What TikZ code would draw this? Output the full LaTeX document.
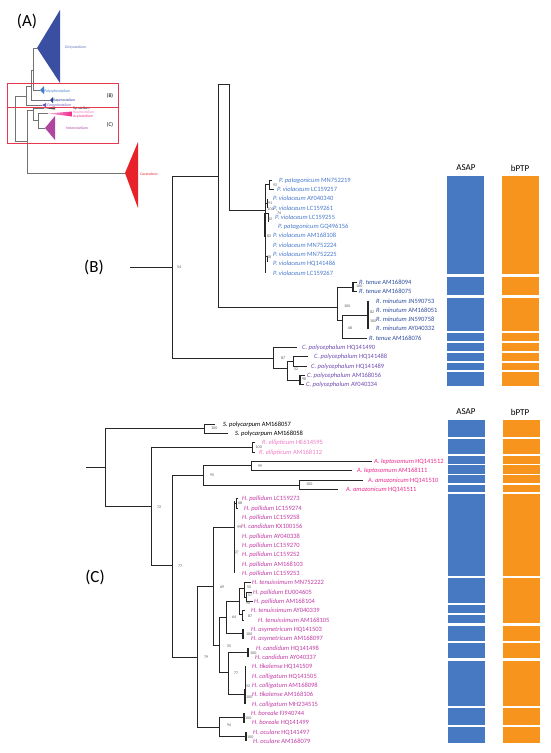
\documentclass[tikz,border=0pt]{standalone}
\usepackage{fontspec}
\setmainfont{Carlito}
\definecolor{pblue}{HTML}{4A7BCC}
\definecolor{rblue}{HTML}{2E4D9E}
\definecolor{cpurp}{HTML}{6F4BB0}
\definecolor{epink}{HTML}{EF7CC6}
\definecolor{apink}{HTML}{EE2A8C}
\definecolor{hmag}{HTML}{C23CA6}
\definecolor{barblue}{HTML}{4679C1}
\definecolor{barorg}{HTML}{F7941D}
\definecolor{boxred}{HTML}{E8384F}
\definecolor{dicty}{HTML}{3B4FA2}
\definecolor{polyc}{HTML}{3E7DCB}
\definecolor{raper}{HTML}{243C92}
\definecolor{corem}{HTML}{6A52B8}
\definecolor{cav}{HTML}{E8222A}
\definecolor{hetero}{HTML}{B0469E}
\newcommand{\lf}[4]{\node[lab,text=#2] (#4) at (#1) {\textit{#3} #4};}
\newcommand{\sv}[3]{\node[sup] (#1) at (#2) {#3};}
\newcommand{\alb}[4]{\node[alabel,text=#3] (#1) at (#2) {\textit{#4}};}
\newcommand{\seg}[4]{\fill[#1] (#2,#3) rectangle ({#2+37},#4);}
\begin{document}
\begin{tikzpicture}[x=1pt,y=-1pt,
  br/.style={draw=black!85, line width=0.8pt},
  tbar/.style={draw=black!85, line width=1.7pt},
  abr/.style={draw=black!55, line width=0.7pt},
  lab/.style={anchor=west, inner sep=0pt, font=\fontsize{6.5}{7}\selectfont, text height=4.2pt, text depth=0pt},
  sup/.style={anchor=west, inner sep=0pt, font=\fontsize{4}{4.5}\selectfont, text=black!65, text height=2.6pt, text depth=0pt},
  alabel/.style={anchor=west, inner sep=0pt, font=\fontsize{3.8}{4}\selectfont, text height=2.5pt, text depth=0pt},
  hdr/.style={inner sep=0pt, font=\fontsize{9}{10}\selectfont},
  panel/.style={inner sep=0pt, font=\fontsize{17}{18}\selectfont}]
\useasboundingbox (0,0) rectangle (550,753);
\fill[white] (0,0) rectangle (550,753);

% ================= Panel A =================
\node[panel] (pA) at (27,21) {(A)};
\fill[dicty] (37,48) -- (60,10) -- (60,83) -- cycle;
\fill[polyc] (40,90) -- (44,86) -- (44,94) -- cycle;
\fill[raper] (50,100) -- (53,97) -- (53,103) -- cycle;
\fill[corem] (42,105) -- (46,103) -- (46,107) -- cycle;
\fill[black!70] (44,108) -- (55,106.5) -- (55,109.5) -- cycle;
\shade[left color=epink!60, right color=apink] (48,113.5) -- (72,111.5) -- (72,116.5) -- cycle;
\fill[hetero] (45,128) -- (55,116) -- (55,140) -- cycle;
\fill[cav] (125,173) -- (138,142) -- (138,208) -- cycle;
\draw[abr] (37,48) -| (33,90) -- (40,90);
\draw[abr] (33,70) -| (31,100) -- (50,100);
\draw[abr] (31,86) -| (26,105) -- (42,105);
\draw[abr] (26,96) -| (15,141) -- (27,141);
\draw[abr] (33,110) -| (27,173) -- (125,173);
\draw[abr] (44,108) -| (33,120) -- (38,120);
\draw[abr] (48,113.5) -| (38,128) -- (45,128);
\alb{aD}{65,47}{dicty!80!white}{Dictyostelium}
\alb{aP}{44,91}{polyc}{Polysphondylium}
\alb{aR}{53,100}{raper}{Raperostelium}
\alb{aC}{47,105}{corem}{Coremiostelium}
\alb{aS}{73,108.5}{black}{Synstelium}
\alb{aRo}{73,112.5}{epink}{Rostrostelium}
\alb{aA}{73,116.5}{apink}{Acytostelium}
\alb{aH}{66,128}{hetero}{Heterostelium}
\alb{aCa}{140,174}{cav}{Cavenderia}
\draw[boxred, line width=1pt] (7,83) rectangle (118,143);
\draw[boxred, line width=0.8pt] (7,107) -- (118,107);
\node[inner sep=0pt, font=\fontsize{5.5}{6}\selectfont] (aBl) at (110,96) {(B)};
\node[inner sep=0pt, font=\fontsize{5.5}{6}\selectfont] (aCl) at (110,125) {(C)};

% ================= Panel B =================
\node[panel] (pB) at (94,267) {(B)};
\draw[br] (130,267) -- (172,267);
\draw[br] (218,176) -| (172,358) -- (273,358);
\draw[br] (229,210) |- (218,84) -- (218,307) -- (337,307);
\draw[br] (229,210) -- (265,210);
% P clade
\draw[br] (265,184) -- (265,273);
\draw[br] (265,184) -- (269,184);
\draw[br] (272,180) -| (269,189.3) -- (274,189.3);
\draw[br] (265,203) -- (267,203);
\draw[br] (267,198.6) -- (267,208);
\draw[br] (266,213) -- (268,213) -- (268,222);
\draw[tbar] (265,213) -- (265,237);
\draw[br] (265,256) -- (267,256) -- (267,262);
% R clade
\draw[br] (353,287) -| (337,320) -- (342,320);
\draw[tbar] (353,282) -- (353,291.6);
\draw[br] (353,282.3) -- (357,282.3);
\draw[br] (353,291.6) -- (357,291.6);
\draw[br] (368,315) -| (342,338.1) -- (367,338.1);
\draw[tbar] (368,300.5) -- (368,329);
% C. polycephalum clade
\draw[br] (297,347.4) -| (273,368) -- (287,368);
\draw[br] (293,361) -| (287,380) -- (300,380);
\draw[br] (308,356.7) -| (293,366) -- (307,366);
\draw[tbar] (300,375) -- (300,385);
\draw[br] (300,375.3) -- (305,375.3);
\draw[br] (300,384.6) -- (304,384.6);
% labels B
\lf{279,180.0}{pblue}{P. patagonicum}{MN752219}
\lf{277,189.3}{pblue}{P. violaceum}{LC159257}
\lf{273,198.6}{pblue}{P. violaceum}{AY040340}
\lf{273,207.9}{pblue}{P. violaceum}{LC159261}
\lf{275,217.2}{pblue}{P. violaceum}{LC159255}
\lf{278,226.5}{pblue}{P. patagonicum}{GQ496156}
\lf{273,235.8}{pblue}{P. violaceum}{AM168108}
\lf{273,245.1}{pblue}{P. violaceum}{MN752224}
\lf{273,254.4}{pblue}{P. violaceum}{MN752225}
\lf{273,263.7}{pblue}{P. violaceum}{HQ141486}
\lf{273,273.0}{pblue}{P. violaceum}{LC159267}
\lf{359,282.3}{rblue}{R. tenue}{AM168094}
\lf{359,291.6}{rblue}{R. tenue}{AM168075}
\lf{376,300.9}{rblue}{R. minutum}{JN590753}
\lf{376,310.2}{rblue}{R. minutum}{AM168051}
\lf{376,319.5}{rblue}{R. minutum}{JN590758}
\lf{376,328.8}{rblue}{R. minutum}{AY040332}
\lf{369,338.1}{rblue}{R. tenue}{AM168076}
\lf{302,347.4}{cpurp}{C. polycephalum}{HQ141490}
\lf{314,356.7}{cpurp}{C. polycephalum}{HQ141488}
\lf{311,366.0}{cpurp}{C. polycephalum}{HQ141489}
\lf{307,375.3}{cpurp}{C. polycephalum}{AM168056}
\lf{306,384.6}{cpurp}{C. polycephalum}{AY040334}
% supports B
\sv{b1}{177,267}{54}
\sv{b2}{273,185}{92}
\sv{b3}{268,203}{91}
\sv{b4}{267.5,209}{100}
\sv{b5}{277,213}{74}
\sv{b6}{268,219}{82}
\sv{b7}{267,236}{82}
\sv{b8}{267,257}{58}
\sv{b9}{356,286.5}{100}
\sv{b10}{344,306}{100}
\sv{b11}{348,328}{68}
\sv{b12}{370,312}{82}
\sv{b13}{370,321}{100}
\sv{b14}{281,358}{87}
\sv{b15}{294,369}{52}
\sv{b16}{302,379}{98}
% bars B
\node[hdr] (hA1) at (466,168) {ASAP};
\node[hdr] (hB1) at (520,168) {bPTP};
\foreach \t/\b in {176/274,277/295,297.5/330.5,332.5/341,343/351,353/361,362.5/370,372/386}{
  \seg{barblue}{447}{\t}{\b}
  \seg{barorg}{502}{\t}{\b}
}

% ================= Panel C =================
\node[panel] (pC) at (95,577) {(C)};
\draw[br] (86,467) -- (105,467);
\draw[br] (204,428) -| (105,506) -- (151,506);
\draw[br] (215,424) -| (204,433.3) -- (228,433.3);
\draw[br] (252,447) -| (151,565) -- (172,565);
\draw[br] (255,442.7) -| (252,452) -- (255,452);
\draw[br] (203,475) -| (172,657) -- (197,657);
\draw[br] (251,465) -| (203,485) -- (299,485);
\draw[br] (372,461.3) -| (251,470.7) -- (352,470.7);
\draw[br] (363,480) -| (299,489.3) -- (338,489.3);
\draw[br] (213,586) -| (197,727) -- (219,727);
\draw[br] (234,527) -| (213,645) -- (219,645);
\draw[br] (234,501) -- (234,573.3);
\draw[br] (234,503.5) -- (236,503.5);
\draw[br] (238,498.6) -| (236,508) -- (238,508);
\draw[br] (226,617) -| (219,672) -- (228,672);
\draw[br] (239,601) -| (226,633) -- (243,633);
\draw[br] (244,588) -| (239,614) -- (242,614);
\draw[br] (251,582.6) -| (244,597) -- (246,597);
\draw[br] (252,592) -| (246,601.3) -- (253,601.3);
\draw[br] (245,610.6) -| (242,620) -- (244,620);
\draw[tbar] (243,629) -- (243,639);
\draw[br] (248,652) -| (228,694) -- (245,694);
\draw[tbar] (248,648) -- (248,657.3);
\draw[br] (245,666) -- (245,704);
\draw[tbar] (245,689) -- (245,704);
\draw[br] (244,717) -| (219,736.5) -- (246,736.5);
\draw[tbar] (244,713) -- (244,722.6);
\draw[tbar] (246,732) -- (246,741.3);
% labels C
\lf{223,424.0}{black}{S. polycarpum}{AM168057}
\lf{235,433.3}{black}{S. polycarpum}{AM168058}
\lf{262,442.7}{epink}{R. ellipticum}{HE614595}
\lf{259,452.0}{epink}{R. ellipticum}{AM168112}
\lf{374,461.3}{apink}{A. leptosomum}{HQ141512}
\lf{357,470.7}{apink}{A. leptosomum}{AM168111}
\lf{368,480.0}{apink}{A. amazonicum}{HQ141510}
\lf{346,489.3}{apink}{A. amazonicum}{HQ141511}
\lf{242,498.6}{hmag}{H. pallidum}{LC159273}
\lf{244,508.0}{hmag}{H. pallidum}{LC159274}
\lf{242,517.3}{hmag}{H. pallidum}{LC159258}
\lf{241,526.6}{hmag}{H. candidum}{KX100156}
\lf{242,536.0}{hmag}{H. pallidum}{AY040338}
\lf{242,545.3}{hmag}{H. pallidum}{LC159270}
\lf{242,554.6}{hmag}{H. pallidum}{LC159252}
\lf{242,564.0}{hmag}{H. pallidum}{AM168103}
\lf{242,573.3}{hmag}{H. pallidum}{LC159253}
\lf{252,582.6}{hmag}{H. tenuissimum}{MN752222}
\lf{253,592.0}{hmag}{H. pallidum}{EU004605}
\lf{254,601.3}{hmag}{H. pallidum}{AM168104}
\lf{251,610.6}{hmag}{H. tenuissimum}{AY040339}
\lf{258,620.0}{hmag}{H. tenuissimum}{AM168105}
\lf{251,629.3}{hmag}{H. asymetricum}{HQ141503}
\lf{251,638.6}{hmag}{H. asymetricum}{AM168097}
\lf{256,648.0}{hmag}{H. candidum}{HQ141498}
\lf{255,657.3}{hmag}{H. candidum}{AY040337}
\lf{252,666.6}{hmag}{H. tikalense}{HQ141509}
\lf{252,676.0}{hmag}{H. colligatum}{HQ141505}
\lf{252,685.3}{hmag}{H. colligatum}{AM168098}
\lf{252,694.6}{hmag}{H. tikalense}{AM168106}
\lf{252,704.0}{hmag}{H. colligatum}{MH234515}
\lf{251,713.3}{hmag}{H. boreale}{FJ940744}
\lf{252,722.6}{hmag}{H. boreale}{HQ141499}
\lf{253,732.0}{hmag}{H. oculare}{HQ141497}
\lf{253,741.3}{hmag}{H. oculare}{AM168079}
% supports C
\sv{c1}{211,428.5}{100}
\sv{c2}{157,507}{72}
\sv{c3}{255.5,447.5}{100}
\sv{c4}{178,566}{77}
\sv{c5}{210,475}{95}
\sv{c6}{258,466}{99}
\sv{c7}{306,484.5}{100}
\sv{c8}{204,657}{79}
\sv{c9}{220,587}{69}
\sv{c10}{237,527}{99}
\sv{c11}{238,503}{68}
\node[sup, rotate=90, anchor=center] (c12) at (237,552) {75};
\sv{c13}{227,646}{55}
\sv{c14}{232,617}{64}
\sv{c15}{234,673}{77}
\sv{c16}{227,725}{94}
\sv{c17}{247,587}{55}
\sv{c18}{248,595}{57}
\sv{c19}{246,603.5}{90}
\sv{c20}{248,616}{87}
\sv{c21}{246,634}{100}
\sv{c22}{250,653}{100}
\sv{c23}{246,686}{52}
\sv{c24}{246,697.5}{100}
\sv{c25}{245,718}{100}
\sv{c26}{247,737}{100}
% bars C
\node[hdr] (hA2) at (466,412) {ASAP};
\node[hdr] (hB2) at (520,412) {bPTP};
\foreach \t/\b in {420/437,438.5/454,456/463.5,465/473.5,475/483,484.5/492,494/575.5,577.5/602.5,604.5/613,614.5/623,625.5/641,643/658,660.5/706,708/725,727/743}{
  \seg{barblue}{448}{\t}{\b}
}
\foreach \t/\b in {420/437,438.5/454,456/463.5,465/473.5,475/483,484.5/492,494/575.5,577.5/623,625.5/641,643/658,660.5/706,708/725,727/743}{
  \seg{barorg}{503}{\t}{\b}
}
\end{tikzpicture}
\end{document}
